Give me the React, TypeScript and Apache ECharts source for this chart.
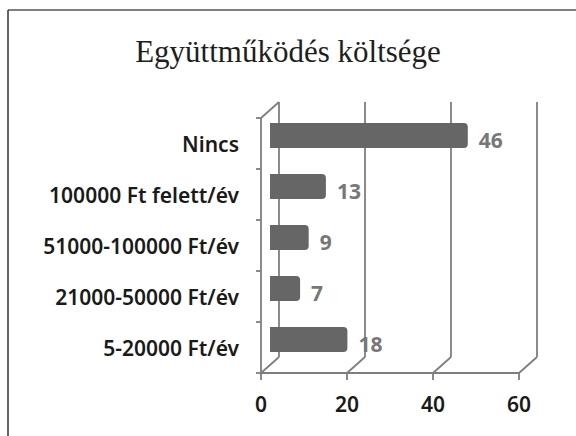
import React, { useEffect, useRef } from "react";
import * as echarts from "echarts";

const title = "Együttműködés költsége";
const categories = [
  "5-20000 Ft/év",
  "21000-50000 Ft/év",
  "51000-100000 Ft/év",
  "100000 Ft felett/év",
  "Nincs",
];
const values = [18, 7, 9, 13, 46];
const xMin = 0;
const xMax = 60;
const xInterval = 20;
const xTicks = [0, 20, 40, 60];

export default function App() {
  const ref = useRef<HTMLDivElement>(null);
  useEffect(() => {
    if (!ref.current) return;
    const chart = echarts.init(ref.current, null, { renderer: "svg" });
    const depthX = 18;
    const depthY = -16;
    const front = { left: 261, top: 118, width: 258, height: 255 };
    const back = { left: front.left + depthX, top: front.top + depthY, width: front.width, height: front.height };
    const mid = { left: front.left + depthX / 2, top: front.top + depthY / 2, width: front.width, height: front.height };
    const axisColor = "#7e7e7e";
    const diagData = xTicks.map((v) => [v, 0]).concat([[xMin, 1]]);

    chart.setOption({
      animation: false,
      backgroundColor: "#ffffff",
      title: {
        text: title,
        left: "center",
        top: 31,
        textStyle: {
          fontFamily: "Liberation Serif",
          fontSize: 31,
          fontWeight: "normal",
          color: "#1e1e1e",
        },
      },
      graphic: [
        { type: "line", shape: { x1: 8, y1: 10, x2: 576, y2: 10 }, style: { stroke: "#555", lineWidth: 1.5 } },
        { type: "line", shape: { x1: 8, y1: 10, x2: 8, y2: 436 }, style: { stroke: "#333", lineWidth: 1.5 } },
      ],
      grid: [
        { ...front, containLabel: false },
        { ...back, containLabel: false },
        { ...mid, containLabel: false },
      ],
      xAxis: [
        {
          gridIndex: 0,
          type: "value",
          min: xMin,
          max: xMax,
          interval: xInterval,
          axisLine: { show: true, lineStyle: { color: axisColor, width: 1.8 } },
          axisTick: { show: true, length: 7, lineStyle: { color: axisColor, width: 1.8 } },
          splitLine: { show: false },
          axisLabel: {
            margin: 20,
            fontFamily: "Noto Sans",
            fontSize: 21,
            fontWeight: 600,
            color: "#1a1a1a",
          },
        },
        {
          gridIndex: 1,
          type: "value",
          min: xMin,
          max: xMax,
          interval: xInterval,
          axisLine: { show: false },
          axisTick: { show: false },
          axisLabel: { show: false },
          splitLine: { show: true, lineStyle: { color: axisColor, width: 1.8 } },
        },
        {
          gridIndex: 2,
          type: "value",
          min: xMin,
          max: xMax,
          interval: xInterval,
          show: false,
        },
      ],
      yAxis: [
        {
          gridIndex: 0,
          type: "category",
          data: categories,
          axisLine: { show: true, lineStyle: { color: axisColor, width: 1.8 } },
          axisTick: { show: true, length: 5, lineStyle: { color: axisColor, width: 1.8 } },
          axisLabel: {
            margin: 22,
            fontFamily: "Noto Sans",
            fontSize: 21,
            fontWeight: 600,
            color: "#1a1a1a",
          },
        },
        {
          gridIndex: 1,
          type: "category",
          data: categories,
          show: false,
        },
        {
          gridIndex: 2,
          type: "category",
          data: categories,
          show: false,
        },
      ],
      series: [
        {
          type: "custom",
          xAxisIndex: 0,
          yAxisIndex: 0,
          silent: true,
          data: diagData,
          renderItem: (params: any, api: any) => {
            const v = api.value(0);
            const isTop = api.value(1) === 1;
            const band = api.size([0, 1])[1];
            const p = api.coord([v, isTop ? categories.length - 1 : 0]);
            const y = isTop ? p[1] - band / 2 : p[1] + band / 2;
            return {
              type: "line",
              shape: { x1: p[0], y1: y, x2: p[0] + depthX, y2: y + depthY },
              style: { stroke: axisColor, lineWidth: 1.8 },
            };
          },
        },
        {
          type: "bar",
          xAxisIndex: 2,
          yAxisIndex: 2,
          data: values,
          barWidth: 25,
          itemStyle: { color: "#666666", borderRadius: [0, 4, 4, 0] },
          label: {
            show: true,
            position: "right",
            distance: 11,
            offset: [0, 4],
            fontFamily: "Noto Sans",
            fontSize: 21,
            fontWeight: "bold",
            color: "#777777",
          },
        },
      ],
    });
    return () => chart.dispose();
  }, []);
  return (
    <div
      ref={ref}
      style={{ position: "fixed", left: 0, top: 0, width: 576, height: 436 }}
    />
  );
}
